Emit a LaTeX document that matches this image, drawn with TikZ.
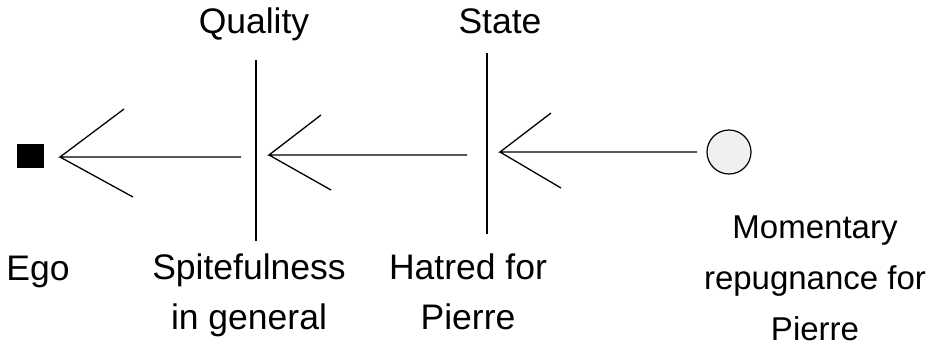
\documentclass[tikz,border=0pt]{standalone}
\usepackage{fontspec}
\setmainfont{Liberation Sans}
\begin{document}
\begin{tikzpicture}[x=1pt,y=-1pt,
  lab/.style={inner sep=0pt,font=\fontsize{35.5}{50}\selectfont},
  mlab/.style={lab,align=center,anchor=north},
  ln/.style={line width=1.3pt,black},
  egobox/.style={fill=black,draw=none,minimum width=27pt,minimum height=24pt,inner sep=0pt},
  srcdot/.style={circle,draw=black,line width=1.2pt,fill=black!6,minimum size=44pt,inner sep=0pt}]
\useasboundingbox (0,0) rectangle (928,349);
% nodes
\node[egobox] (ego) at (30.5,156) {};
\node[srcdot] (rep) at (729,152) {};
% vertical bars
\coordinate (q1) at (256,60);
\coordinate (q2) at (256,241);
\coordinate (s1) at (487,53);
\coordinate (s2) at (487,234);
\draw[ln] (q1) -- (q2);
\draw[ln] (s1) -- (s2);
% arrow 3: circle -> state
\coordinate (a3s) at (697,152);
\coordinate (a3t) at (500,152);
\draw[ln] (a3s) -- (a3t) -- ++(51,-39) (a3t) -- ++(61,36);
% arrow 2: state -> quality
\coordinate (a2s) at (467,155);
\coordinate (a2t) at (269,155);
\draw[ln] (a2s) -- (a2t) -- ++(52,-40) (a2t) -- ++(62,35);
% arrow 1: quality -> ego
\coordinate (a1s) at (241,157);
\coordinate (a1t) at (60,157);
\draw[ln] (a1s) -- (a1t) -- ++(64,-48) (a1t) -- ++(73,40);
% labels
\node[lab,anchor=base] (tq) at (254,33) {Quality};
\node[lab,anchor=base] (ts) at (500,33) {State};
\node[lab,anchor=base] (tego) at (38,280) {Ego};
\node[mlab] (tspite) at (249,254) {Spitefulness\\in general};
\node[mlab] (thate) at (468,254) {Hatred for\\Pierre};
\node[mlab,font=\fontsize{33}{51}\selectfont] (tmom) at (815,216) {Momentary\\repugnance for\\Pierre};
\end{tikzpicture}
\end{document}
